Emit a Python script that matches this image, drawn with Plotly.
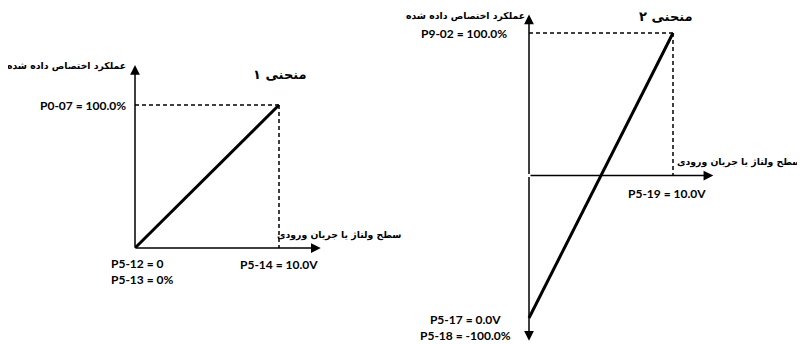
import plotly.graph_objects as go

# curve 1: input 0..10 V -> 0..100 %
c1_x = [0, 10]
c1_y = [0, 100]
c1_labels = ["P0-07 = 100.0%", "P5-12 = 0<br>P5-13 = 0%", "P5-14 = 10.0V"]

# curve 2: input 0..10 V -> -100..100 %
c2_x = [0, 10]
c2_y = [-100, 100]
c2_labels = ["P9-02 = 100.0%", "P5-17 = 0.0V<br>P5-18 = -100.0%", "P5-19 = 10.0V"]

titles = ["منحنی ۱", "منحنی ۲"]
y_title = "عملکرد اختصاص داده شده"
x_title = "سطح ولتاژ یا جریان ورودی"

W, H = 805, 344
OFF = 8  # page body margin
FA = "DejaVu Sans"
FL = "Lato"


def xrange_px(px0, per_unit):
    # screen pixel of value 0 and pixels per unit -> axis range over full paper
    p0 = px0 - OFF
    return [-p0 / per_unit, (W - p0) / per_unit]


def yrange_px(py0, per_unit):
    p0 = H - (py0 - OFF)
    return [-p0 / per_unit, (H - p0) / per_unit]


fig = go.Figure()
fig.add_trace(go.Scatter(x=c1_x, y=c1_y, mode="lines", xaxis="x", yaxis="y",
                         line=dict(color="black", width=3), showlegend=False))
fig.add_trace(go.Scatter(x=c2_x, y=c2_y, mode="lines", xaxis="x2", yaxis="y2",
                         line=dict(color="black", width=3), showlegend=False))

hidden = dict(visible=False, domain=[0, 1], fixedrange=True)
fig.update_layout(
    width=W, height=H, margin=dict(l=0, r=0, t=0, b=0),
    paper_bgcolor="white", plot_bgcolor="rgba(0,0,0,0)",
    xaxis=dict(range=xrange_px(135, 14.4), **hidden),
    yaxis=dict(range=yrange_px(248, 1.43), **hidden),
    xaxis2=dict(range=xrange_px(529, 14.4), overlaying="x", **hidden),
    yaxis2=dict(range=yrange_px(175.5, 1.425), overlaying="y", **hidden),
)

dash = dict(color="black", width=1.5, dash="4px,3px")
shapes = []
anns = []


def arrow(xr, yr, x0, y0, x1, y1):
    anns.append(dict(x=x1, y=y1, ax=x0, ay=y0, xref=xr, yref=yr, axref=xr, ayref=yr,
                     text="", showarrow=True, arrowhead=2, arrowsize=1.3,
                     arrowwidth=1.5, arrowcolor="black"))


def label(xr, yr, x, y, text, size, font, **kw):
    anns.append(dict(x=x, y=y, xref=xr, yref=yr, text=text, showarrow=False,
                     font=dict(family=font, size=size, color="black"), **kw))


# left chart
xmax, ymax = c1_x[-1], c1_y[-1]
arrow("x", "y", 0, 0, 0, 128)
arrow("x", "y", 0, 0, 12.9, 0)
shapes.append(dict(type="line", xref="x", yref="y", x0=0, y0=ymax, x1=xmax, y1=ymax, line=dash))
shapes.append(dict(type="line", xref="x", yref="y", x0=xmax, y0=ymax, x1=xmax, y1=0, line=dash))
label("x", "y", 0, 127, "<b>" + y_title + "</b>", 9.3, FA, xanchor="right", xshift=-7)
label("x", "y", 0, ymax, "<b>" + c1_labels[0] + "</b>", 12, FL, xanchor="right", xshift=-7)
label("x", "y", 10.1, 121, "<b>" + titles[0] + "</b>", 13, FA)
label("x", "y", 9.7, 9, "<b>" + x_title + "</b>", 9.3, FA, xanchor="left")
label("x", "y", 0, 0, "<b>" + c1_labels[1] + "</b>", 12, FL, align="left",
      xanchor="left", xshift=-26, yanchor="top", yshift=-6)
label("x", "y", xmax, 0, "<b>" + c1_labels[2] + "</b>", 12, FL, yanchor="top", yshift=-7)

# right chart
xmax, ymax = c2_x[-1], c2_y[-1]
arrow("x2", "y2", 0, 0, 0, 113)
arrow("x2", "y2", 0, 0, 0, -116)
arrow("x2", "y2", 0, 0, 12.8, 0)
shapes.append(dict(type="line", xref="x2", yref="y2", x0=0, y0=ymax, x1=xmax, y1=ymax, line=dash))
shapes.append(dict(type="line", xref="x2", yref="y2", x0=xmax, y0=ymax, x1=xmax, y1=0, line=dash))
label("x2", "y2", 0, 112, "<b>" + y_title + "</b>", 9.3, FA, xanchor="right", xshift=-2)
label("x2", "y2", 0, ymax, "<b>" + c2_labels[0] + "</b>", 12, FL, xanchor="right", xshift=-20)
label("x2", "y2", 9.5, 111.5, "<b>" + titles[1] + "</b>", 13, FA)
label("x2", "y2", 19.05, 9.5, "<b>" + x_title + "</b>", 9.3, FA, xanchor="right")
label("x2", "y2", 0, c2_y[0], "<b>" + c2_labels[1] + "</b>", 12, FL, align="center",
      xanchor="right", yanchor="middle", xshift=-16, yshift=-9)
label("x2", "y2", 9.6, 0, "<b>" + c2_labels[2] + "</b>", 12, FL, yanchor="top", yshift=-8)

fig.update_layout(shapes=shapes, annotations=anns)
fig.write_html("out.html")
